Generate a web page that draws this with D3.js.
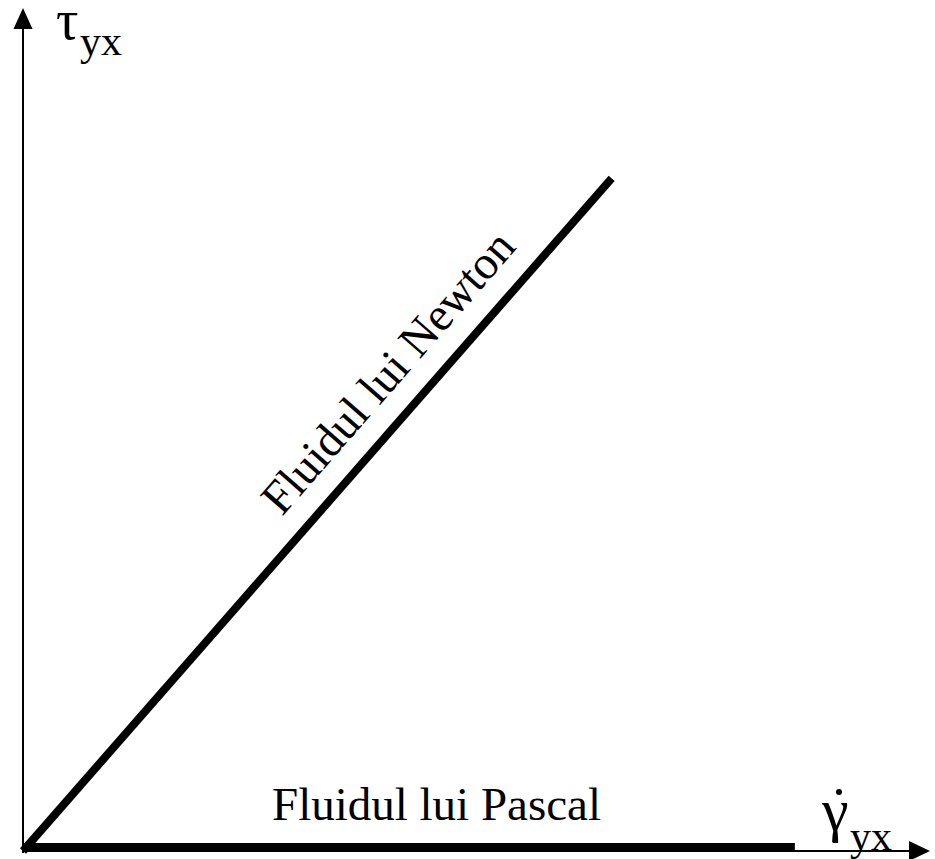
<!DOCTYPE html>
<html>
<head>
<meta charset="utf-8">
<script src="https://cdn.jsdelivr.net/npm/d3@7/dist/d3.min.js"></script>
<style>
  html, body { margin: 0; padding: 0; background: #fff; }
  svg { display: block; }
  text { font-family: "Liberation Serif", "Times New Roman", serif; fill: #000; }
</style>
</head>
<body>
<svg id="chart" width="935" height="859"></svg>
<script>
// Flow curves: shear stress vs. shear rate (dimensionless units)
const newtonRate   = [0, 0.649];
const newtonStress = [0, 0.798];
const pascalRate   = [0, 0.851];
const pascalStress = [0, 0];
const curveNames   = ["Fluidul lui Newton", "Fluidul lui Pascal"];
const axisSymbols  = { y: ["τ", "yx"], x: ["γ", "yx"] };

const svg = d3.select("#chart");

const x = d3.scaleLinear().domain([0, 1]).range([23, 930]);
const y = d3.scaleLinear().domain([0, 1]).range([851, 8]);

// Axes with arrow heads
svg.append("line")
  .attr("x1", x(0)).attr("y1", y(0) + 2)
  .attr("x2", x(0)).attr("y2", y(1) + 18)
  .attr("stroke", "#000").attr("stroke-width", 2);
svg.append("path")
  .attr("d", `M${x(0)},${y(1)} L${x(0) - 9.5},${y(1) + 21} L${x(0) + 9.5},${y(1) + 21} Z`)
  .attr("fill", "#000");

svg.append("line")
  .attr("x1", x(0)).attr("y1", y(0))
  .attr("x2", x(1) - 18).attr("y2", y(0))
  .attr("stroke", "#000").attr("stroke-width", 2);
svg.append("path")
  .attr("d", `M${x(1)},${y(0)} L${x(1) - 21},${y(0) - 10} L${x(1) - 21},${y(0) + 10} Z`)
  .attr("fill", "#000");

const line = d3.line().x(d => x(d[0])).y(d => y(d[1]));

// Newtonian fluid: linear stress-rate relation
const newtonPts = d3.zip(newtonRate, newtonStress);
svg.append("path")
  .attr("d", line(newtonPts))
  .attr("stroke", "#000").attr("stroke-width", 8)
  .attr("fill", "none").attr("stroke-linecap", "butt");

// Pascal (ideal) fluid: zero stress, bar sits on top of the axis
const pascalPts = d3.zip(pascalRate, pascalStress);
svg.append("path")
  .attr("d", line(pascalPts))
  .attr("transform", "translate(0,-4.5)")
  .attr("stroke", "#000").attr("stroke-width", 7)
  .attr("fill", "none");

// Label along the Newton line
const p0 = [x(newtonRate[0]), y(newtonStress[0])];
const p1 = [x(newtonRate[1]), y(newtonStress[1])];
const ang = Math.atan2(p1[1] - p0[1], p1[0] - p0[0]);
const t = 0.672;
const mx = p0[0] + (p1[0] - p0[0]) * t;
const my = p0[1] + (p1[1] - p0[1]) * t;
const off = 25;
const nx = Math.sin(ang) * off, ny = -Math.cos(ang) * off;
svg.append("text")
  .attr("transform", `translate(${mx + nx},${my + ny}) rotate(${ang * 180 / Math.PI})`)
  .attr("text-anchor", "middle")
  .attr("font-size", 47)
  .text(curveNames[0]);

// Label for the Pascal line
svg.append("text")
  .attr("x", 272).attr("y", 820)
  .attr("font-size", 47)
  .text(curveNames[1]);

// Axis symbols
svg.append("text").attr("x", 56).attr("y", 39).attr("font-size", 56).text(axisSymbols.y[0]);
svg.append("text").attr("x", 80).attr("y", 55).attr("font-size", 42).text(axisSymbols.y[1]);

svg.append("text").attr("x", 822).attr("y", 830).attr("font-size", 60).text(axisSymbols.x[0]);
// time-derivative dot over gamma
svg.append("circle").attr("cx", 839).attr("cy", 792).attr("r", 3).attr("fill", "#000");
svg.append("text").attr("x", 850).attr("y", 850).attr("font-size", 42).text(axisSymbols.x[1]);
</script>
</body>
</html>
